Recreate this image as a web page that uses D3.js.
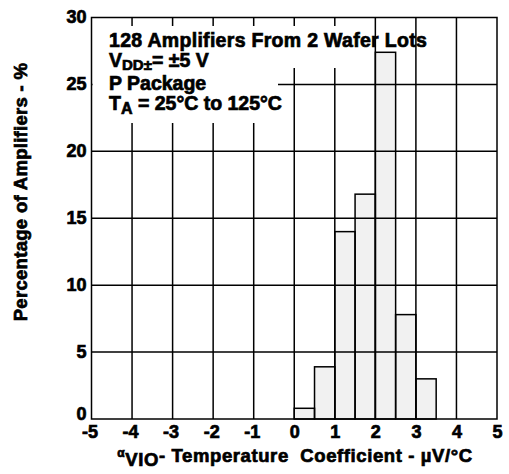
<!DOCTYPE html>
<html><head><meta charset="utf-8">
<script src="https://cdn.jsdelivr.net/npm/d3@7"></script>
<style>
body{margin:0;background:#fff;}
text{font-family:"Liberation Sans",Arial,sans-serif;font-weight:bold;fill:#000;stroke:#000;stroke-width:0.7px;white-space:pre;}
</style></head>
<body><svg id="c" width="509" height="474"></svg>
<script>
const binStart = [0, 0.5, 1, 1.5, 2, 2.5, 3];
const binWidth = 0.5;
const percent = [0.8, 3.9, 14.0, 16.8, 27.4, 7.8, 3.0];
const xTicks = [-5,-4,-3,-2,-1,0,1,2,3,4,5];
const yTicks = [0,5,10,15,20,25,30];

const svg = d3.select("#c");
const x = d3.scaleLinear().domain([-5,5]).range([91.5,497]);
const y = d3.scaleLinear().domain([0,30]).range([419,17.5]);
const FONT = "Liberation Sans, Arial, sans-serif";

// bar fills
svg.append("g").selectAll("rect").data(binStart).join("rect")
  .attr("x", d=>x(d)).attr("width", d=>x(d+binWidth)-x(d))
  .attr("y", (d,i)=>y(percent[i])).attr("height",(d,i)=>y(0)-y(percent[i]))
  .attr("fill","#f1f1f1");

// grid
const g = svg.append("g").attr("stroke","#000").attr("stroke-width",1.5);
g.selectAll(".v").data(xTicks.slice(1,-1)).join("line")
  .attr("x1",d=>x(d)).attr("x2",d=>x(d)).attr("y1",y(30)).attr("y2",y(0));
g.selectAll(".h").data(yTicks.slice(1,-1)).join("line")
  .attr("y1",d=>y(d)).attr("y2",d=>y(d)).attr("x1",x(-5)).attr("x2",x(5));

// white boxes behind annotation
svg.append("rect").attr("x",x(-5)+1).attr("y",26).attr("width",372-x(-5)-1).attr("height",42).attr("fill","#fff");
svg.append("rect").attr("x",x(-5)+1).attr("y",26).attr("width",278-x(-5)-1).attr("height",97).attr("fill","#fff");

// bar outlines
svg.append("g").selectAll("rect").data(binStart).join("rect")
  .attr("x", d=>x(d)).attr("width", d=>x(d+binWidth)-x(d))
  .attr("y", (d,i)=>y(percent[i])).attr("height",(d,i)=>y(0)-y(percent[i]))
  .attr("fill","none").attr("stroke","#000").attr("stroke-width",1.5);

// frame
svg.append("rect").attr("x",x(-5)).attr("y",y(30)).attr("width",x(5)-x(-5)).attr("height",y(0)-y(30))
  .attr("fill","none").attr("stroke","#000").attr("stroke-width",1.5);

// axes labels via d3 axes (no lines)
const xa = svg.append("g").attr("transform",`translate(0,${y(0)})`)
  .call(d3.axisBottom(x).tickValues(xTicks).tickSize(0).tickPadding(6).tickFormat(d=>String(d)));
xa.select(".domain").remove();
xa.selectAll("text").attr("font-size",18).attr("font-family",FONT).attr("font-weight","bold").attr("dx",d=>d<0?-2:0);
const ya = svg.append("g").attr("transform",`translate(${x(-5)},0)`)
  .call(d3.axisLeft(y).tickValues(yTicks).tickSize(0).tickPadding(5).tickFormat(d=>String(d)));
ya.select(".domain").remove();
ya.selectAll("text").attr("font-size",18).attr("font-family",FONT).attr("font-weight","bold")
  .attr("dy",d=>d===0?"0.05em":"0.3em");

// annotation
const AF = 19.5;
svg.append("text").attr("font-size",AF).attr("letter-spacing",0.3).attr("x",109).attr("y",47).text("128 Amplifiers From 2 Wafer Lots");
const l2 = svg.append("text").attr("font-size",AF).attr("x",109).attr("y",67);
l2.append("tspan").text("V");
l2.append("tspan").attr("dy",3).attr("font-size",15).text("DD±");
l2.append("tspan").attr("dy",-3).text("= ±5 V");
svg.append("text").attr("font-size",AF).attr("x",109).attr("y",90).text("P Package");
const l4 = svg.append("text").attr("font-size",AF).attr("x",109).attr("y",110);
l4.append("tspan").text("T");
l4.append("tspan").attr("dy",4).attr("font-size",16).text("A");
l4.append("tspan").attr("dy",-4).text(" = 25°C to 125°C");

// x title
const xt = svg.append("text").attr("font-size",18.5).attr("letter-spacing",0.6).attr("text-anchor","middle").attr("x",295).attr("y",462);
xt.append("tspan").attr("font-size",12).attr("dy",-5).text("α");
xt.append("tspan").attr("dy",9).text("VIO");
xt.append("tspan").attr("dy",-4).text("- Temperature  Coefficient - µV/°C");

// y title
svg.append("text").attr("font-size",18.5).attr("letter-spacing",0.3).attr("text-anchor","middle")
  .attr("transform","translate(27,192) rotate(-90)").text("Percentage of Amplifiers - %");
</script></body></html>
